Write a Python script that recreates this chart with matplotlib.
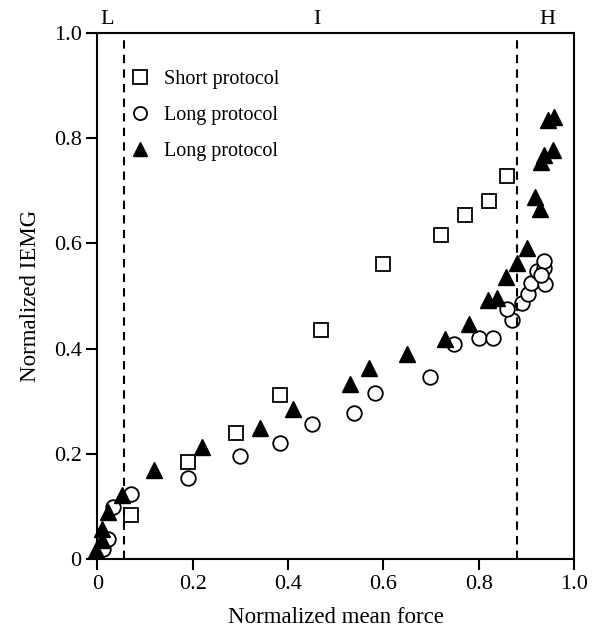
import matplotlib
matplotlib.use("Agg")
import matplotlib.pyplot as plt

plt.rcParams['font.family'] = ['Liberation Serif', 'DejaVu Serif']

# short protocol (open squares)
short_x = [0.070, 0.19, 0.291, 0.382, 0.469, 0.600, 0.720, 0.771, 0.822, 0.859]
short_y = [0.084, 0.185, 0.240, 0.312, 0.435, 0.560, 0.616, 0.655, 0.681, 0.728]

# long protocol (open circles)
circ_x = [0.012, 0.023, 0.032, 0.070, 0.19, 0.30, 0.382, 0.451, 0.538, 0.582,
          0.697, 0.749, 0.801, 0.829, 0.869, 0.859, 0.891, 0.903, 0.909,
          0.922, 0.937, 0.937, 0.939, 0.930]
circ_y = [0.020, 0.039, 0.098, 0.123, 0.155, 0.195, 0.221, 0.257, 0.277, 0.316,
          0.346, 0.409, 0.421, 0.421, 0.454, 0.475, 0.487, 0.503, 0.525,
          0.548, 0.553, 0.567, 0.523, 0.540]

# long protocol (filled triangles)
tri_x = [-0.003, 0.009, 0.009, 0.023, 0.051, 0.119, 0.219, 0.340, 0.410, 0.530,
         0.569, 0.650, 0.729, 0.780, 0.820, 0.839, 0.857, 0.880, 0.901,
         0.918, 0.929, 0.930, 0.936, 0.955, 0.945, 0.957]
tri_y = [0.017, 0.036, 0.058, 0.090, 0.122, 0.169, 0.213, 0.250, 0.286, 0.333,
         0.364, 0.389, 0.419, 0.447, 0.492, 0.496, 0.536, 0.563, 0.591,
         0.689, 0.665, 0.755, 0.768, 0.777, 0.835, 0.840]

zone_lines = [0.055, 0.88]
zone_labels = ['L', 'I', 'H']
zone_label_x = [0.02, 0.46, 0.945]

ticks = [0, 0.2, 0.4, 0.6, 0.8, 1.0]
tick_labels = ['0', '0.2', '0.4', '0.6', '0.8', '1.0']

fig = plt.figure(figsize=(5.93, 6.36), dpi=100)
ax = fig.add_axes([0.1644, 0.121, 0.8036, 0.827])

ax.plot(short_x, short_y, 's', ms=10.5, mfc='white', mec='black', mew=1.3,
        label='Short protocol', clip_on=False)
ax.plot(circ_x, circ_y, 'o', ms=10.5, mfc='white', mec='black', mew=1.3,
        label='Long protocol', clip_on=False)
ax.plot(tri_x, tri_y, '^', ms=11.5, mfc='black', mec='black',
        label='Long protocol', clip_on=False)

for x in zone_lines:
    ax.axvline(x, color='black', ls=(0, (4, 3)), lw=1.5)

for lab, x in zip(zone_labels, zone_label_x):
    ax.text(x, 1.008, lab, ha='center', va='bottom', fontsize=16,
            transform=ax.get_xaxis_transform())

ax.set_xlim(0, 1.0)
ax.set_ylim(0, 1.0)
ax.set_xticks(ticks)
ax.set_xticklabels(tick_labels)
ax.set_yticks(ticks)
ax.set_yticklabels(tick_labels)
ax.tick_params(direction='out', length=8, width=1.5, labelsize=16)
for s in ax.spines.values():
    s.set_linewidth(1.5)

ax.set_xlabel('Normalized mean force', fontsize=16.5, labelpad=9)
ax.set_ylabel('Normalized IEMG', fontsize=16.5, labelpad=9)

ax.legend(loc='upper left', bbox_to_anchor=(0.03, 0.965), frameon=False,
          fontsize=14.5, handlelength=1.0, handletextpad=0.7, labelspacing=0.85,
          markerscale=0.9)

fig.savefig('out.png', dpi=100)
